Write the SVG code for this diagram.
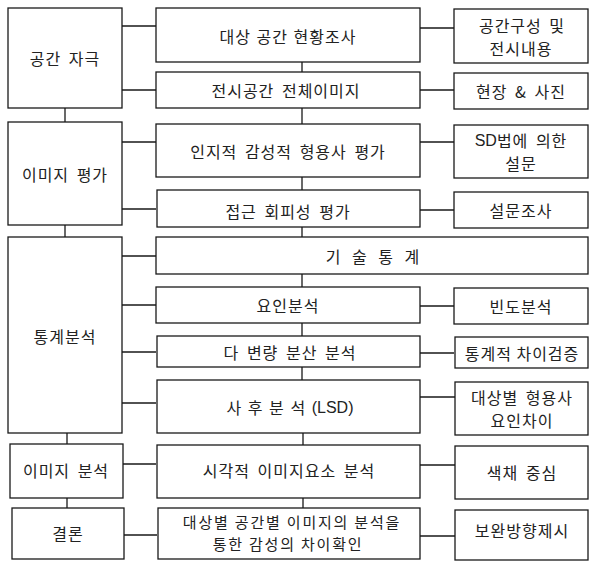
<svg xmlns="http://www.w3.org/2000/svg" width="590" height="561" viewBox="0 0 590 561">
<style>
.box{fill:#fff;stroke:#1a1a1a;stroke-width:1.3}
.ln{stroke:#1a1a1a;stroke-width:1.3;fill:none}
text{font-family:"Noto Sans CJK KR","Noto Sans",sans-serif;font-size:16px;fill:#222;text-anchor:middle;dominant-baseline:central;letter-spacing:1px;word-spacing:3px}
.lat{font-family:"Liberation Sans",Arial,sans-serif;letter-spacing:0}
.two{font-size:15px;letter-spacing:1.8px;word-spacing:0}
</style>
<rect width="590" height="561" fill="#fff"/>
<g id="connectors">
<path class="ln" d="M122 26H156M122 90H156M122 142H156M122 209H156M122 256H156M122 305H156M122 352H156M122 403H156M123 464H156M124 535H157"/>
<path class="ln" d="M420 28H454M420 90H454M420 142H454M420 210H454M420 306H454M420 353H454M420 397H455M420 465H455M420 536H455"/>
<path class="ln" d="M302 62V72M302 108V124M302 177V190M302 227V237M302 274V287M302 323V336M302 367V380M303 433V445M303 498V508"/>
<path class="ln" d="M65 108V122M65 225V237M67 433V444M67 498V508"/>
</g>
<g id="L1"><rect class="box" x="8" y="8" width="114" height="100"/><text x="65" y="58">공간 자극</text></g>
<g id="L2"><rect class="box" x="8" y="122" width="114" height="103"/><text x="65" y="174">이미지 평가</text></g>
<g id="L3"><rect class="box" x="8" y="237" width="114" height="196"/><text x="65" y="336">통계분석</text></g>
<g id="L4"><rect class="box" x="10" y="444" width="113" height="54"/><text x="66" y="470">이미지 분석</text></g>
<g id="L5"><rect class="box" x="12" y="508" width="112" height="51"/><text x="68" y="533">결론</text></g>
<g id="M1"><rect class="box" x="156" y="8" width="264" height="54"/><text x="288" y="36" style="word-spacing:1px">대상 공간 현황조사</text></g>
<g id="M2"><rect class="box" x="156" y="72" width="264" height="36"/><text x="286" y="90">전시공간 전체이미지</text></g>
<g id="M3"><rect class="box" x="156" y="124" width="264" height="53"/><text x="288" y="151">인지적 감성적 형용사 평가</text></g>
<g id="M4"><rect class="box" x="157" y="190" width="263" height="37"/><text x="288" y="211">접근 회피성 평가</text></g>
<g id="M5"><rect class="box" x="156" y="237" width="432" height="37"/><text x="373" y="256" style="word-spacing:6px">기 술 통 계</text></g>
<g id="M6"><rect class="box" x="156" y="287" width="264" height="36"/><text x="288" y="305">요인분석</text></g>
<g id="M7"><rect class="box" x="157" y="336" width="263" height="31"/><text x="290" y="352">다 변량 분산 분석</text></g>
<g id="M8"><rect class="box" x="157" y="380" width="263" height="53"/><text x="290" y="407" style="word-spacing:1px">사 후 분 석 <tspan class="lat">(LSD)</tspan></text></g>
<g id="M9"><rect class="box" x="157" y="445" width="263" height="53"/><text x="289" y="470">시각적 이미지요소 분석</text></g>
<g id="M10"><rect class="box" x="158" y="508" width="262" height="51"/><text class="two" x="292" y="521">대상별 공간별 이미지의 분석을</text><text class="two" x="288" y="543">통한 감성의 차이확인</text></g>
<g id="R1"><rect class="box" x="454" y="9" width="134" height="54"/><text x="522" y="25">공간구성 및</text><text x="521" y="48">전시내용</text></g>
<g id="R2"><rect class="box" x="454" y="73" width="134" height="36"/><text x="521" y="91">현장 &amp; 사진</text></g>
<g id="R3"><rect class="box" x="454" y="125" width="134" height="53"/><text x="521" y="140"><tspan class="lat">SD</tspan>법에 의한</text><text x="521" y="163">설문</text></g>
<g id="R4"><rect class="box" x="454" y="192" width="134" height="36"/><text x="521" y="210">설문조사</text></g>
<g id="R5"><rect class="box" x="454" y="288" width="134" height="36"/><text x="521" y="306">빈도분석</text></g>
<g id="R6"><rect class="box" x="455" y="337" width="133" height="31"/><text x="522" y="353" style="word-spacing:0">통계적 차이검증</text></g>
<g id="R7"><rect class="box" x="455" y="382" width="133" height="53"/><text x="522" y="397">대상별 형용사</text><text x="522" y="420">요인차이</text></g>
<g id="R8"><rect class="box" x="455" y="446" width="133" height="53"/><text x="522" y="472">색채 중심</text></g>
<g id="R9"><rect class="box" x="455" y="510" width="133" height="50"/><text x="522" y="530">보완방향제시</text></g>
</svg>
